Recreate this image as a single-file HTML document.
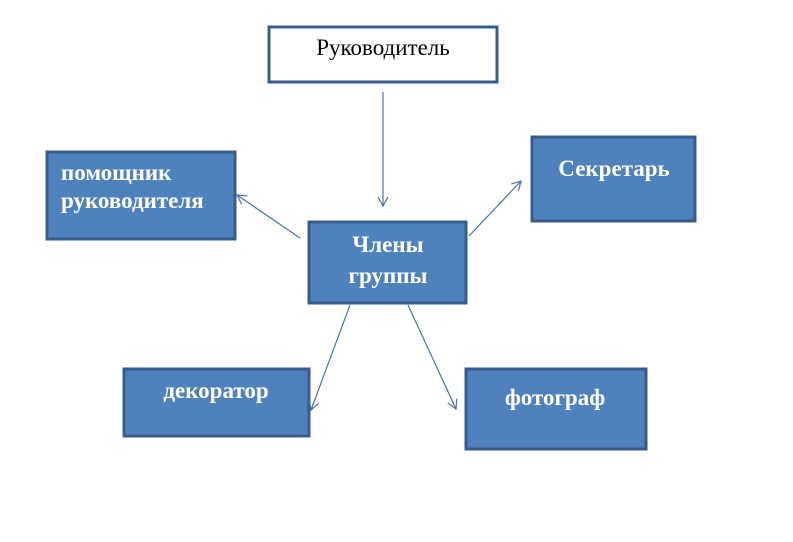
<!DOCTYPE html>
<html><head><meta charset="utf-8"><style>
body{margin:0;background:#fff;width:793px;height:542px;overflow:hidden}
svg{display:block}
text{font-family:"Liberation Serif","DejaVu Serif",serif;font-size:23px}
.b{fill:#fff;font-weight:bold}
</style></head><body>
<svg width="793" height="542" viewBox="0 0 793 542">
<defs><marker id="a" markerWidth="12" markerHeight="12" refX="10" refY="6" orient="auto" markerUnits="userSpaceOnUse"><path d="M1,1 L10,6 L1,11" fill="none" stroke="#4a72a8" stroke-width="1.2"/></marker></defs>
<g fill="#4f81bd" stroke="#385d8a" stroke-width="3">
<rect x="269" y="27" width="228" height="55" fill="#fff"/>
<rect x="47" y="152" width="188" height="87"/>
<rect x="532" y="137" width="163" height="84"/>
<rect x="309" y="222" width="157" height="81"/>
<rect x="124" y="369" width="185" height="67"/>
<rect x="466" y="369" width="180" height="80"/>
</g>
<g stroke="#4a72a8" stroke-width="1.2" fill="none" marker-end="url(#a)">
<line x1="383" y1="92" x2="383" y2="206"/>
<line x1="300" y1="238" x2="237" y2="195"/>
<line x1="469" y1="236" x2="521" y2="181"/>
<line x1="350" y1="305" x2="311" y2="410"/>
<line x1="408" y1="305" x2="456" y2="409"/>
</g>
<text x="383" y="55" text-anchor="middle">Руководитель</text>
<text class="b" x="61" y="180">помощник</text>
<text class="b" x="61" y="208">руководителя</text>
<text class="b" x="614" y="176" text-anchor="middle">Секретарь</text>
<text class="b" x="388" y="252" text-anchor="middle">Члены</text>
<text class="b" x="388" y="283" text-anchor="middle">группы</text>
<text class="b" x="216" y="398" text-anchor="middle">декоратор</text>
<text class="b" x="555" y="405" text-anchor="middle">фотограф</text>
</svg>
</body></html>
